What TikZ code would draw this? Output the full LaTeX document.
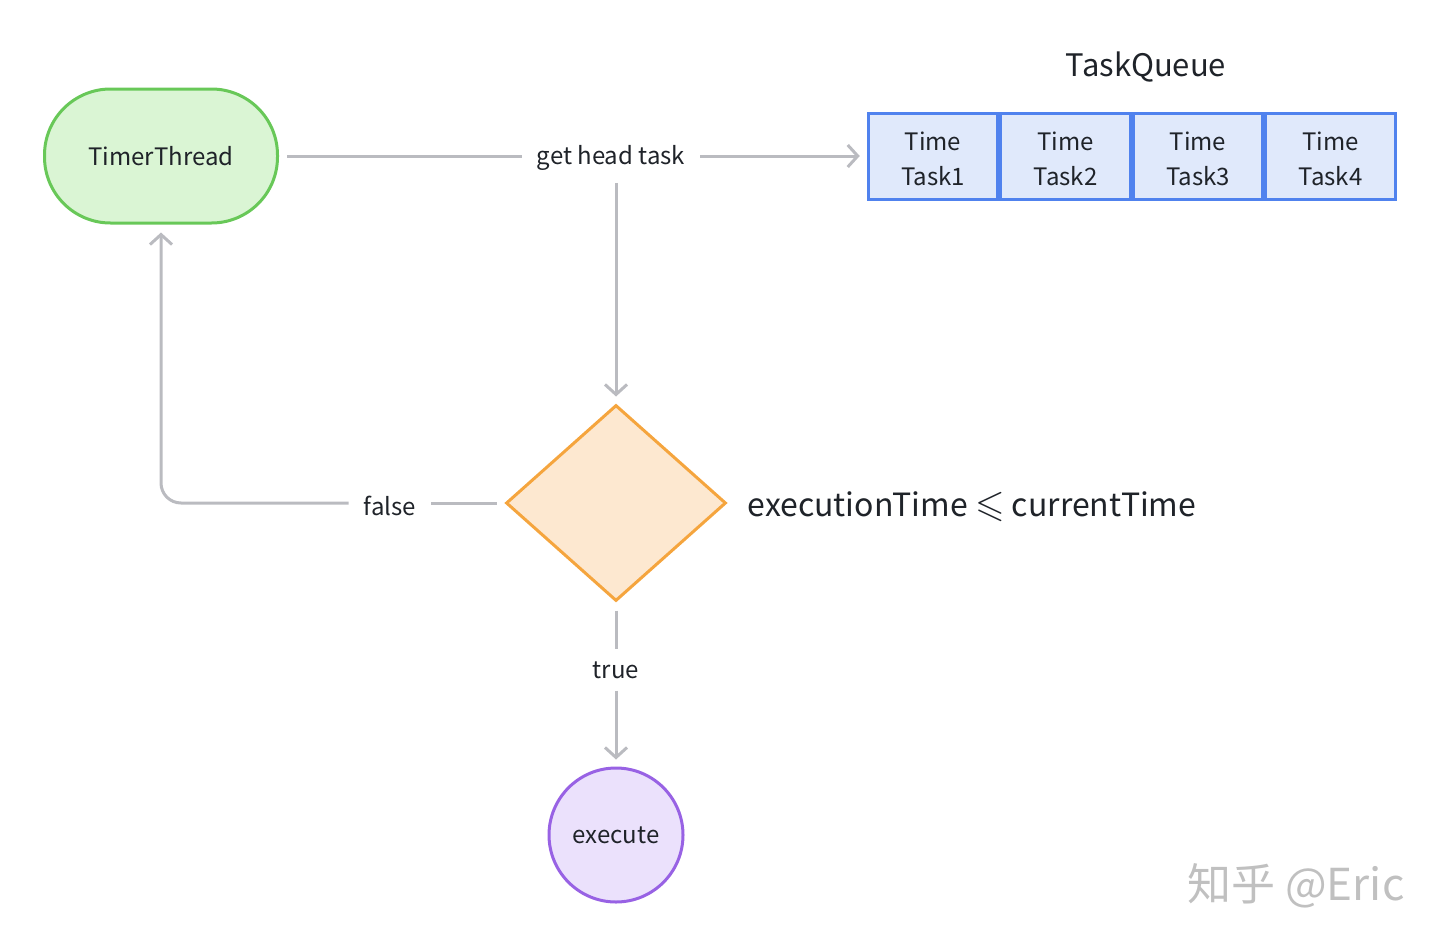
\documentclass[tikz,border=0pt]{standalone}
\usepackage{fontspec}
\usepackage{amssymb}
\setmainfont{Noto Sans CJK SC}
\usetikzlibrary{positioning,shapes.geometric,arrows.meta}
\definecolor{ink}{RGB}{31,35,41}
\definecolor{linegray}{RGB}{186,187,192}
\definecolor{tgreen}{RGB}{104,200,88}
\definecolor{tgfill}{RGB}{218,245,212}
\definecolor{qblue}{RGB}{80,130,238}
\definecolor{qfill}{RGB}{224,233,251}
\definecolor{dorange}{RGB}{245,165,62}
\definecolor{dfill}{RGB}{253,232,208}
\definecolor{epurple}{RGB}{152,98,228}
\definecolor{efill}{RGB}{235,225,252}
\definecolor{wmgray}{RGB}{192,192,192}

\begin{document}
\begin{tikzpicture}[x=1pt, y=-1pt,
  txt/.style={text=ink, font=\fontsize{24}{35}\selectfont},
  lbl/.style={txt, inner xsep=15pt, inner ysep=12pt},
  link/.style={draw=linegray, line width=3pt},
  arr/.style={link, -{Straight Barb[length=10pt, width=22pt]}},
  cell/.style={txt, draw=qblue, fill=qfill, line width=3pt, align=center,
    minimum width=129.5pt, minimum height=86pt, inner sep=0pt}]

\useasboundingbox (0,0) rectangle (1440,945);

% Thread
\node[txt, draw=tgreen, fill=tgfill, line width=3pt, rounded corners=66pt,
  minimum width=233pt, minimum height=134pt] (tt) at (161,156) {TimerThread};

% File de taches
\node[txt, font=\fontsize{31}{36}\selectfont] (tq) at (1146,67) {TaskQueue};
\node[cell] (c1) at (933,156) {\strut Time\\Task1};
\node[cell, right=0pt of c1] (c2) {\strut Time\\Task2};
\node[cell, right=0pt of c2] (c3) {\strut Time\\Task3};
\node[cell, right=0pt of c3] (c4) {\strut Time\\Task4};

% Decision
\node[diamond, draw=dorange, fill=dfill, line width=3pt, inner sep=0pt,
  minimum width=220pt, minimum height=196pt] (dec) at (616,503) {};
\node[txt, font=\fontsize{32}{36}\selectfont, anchor=west] (cond) at (744,507)
  {executionTime {\fontsize{38}{38}\selectfont$\leqslant$} currentTime};

% Execution
\node[txt, circle, draw=epurple, fill=efill, line width=3pt,
  minimum size=134pt] (ex) at (616,835) {execute};

% Labels
\node[lbl] (gh) at (611,158) {get head task};
\node[lbl] (fl) at (390,506) {false};
\node[lbl] (tr) at (616,670) {true};

% Connecteurs
\draw[link, shorten <=8pt] (tt.east) -- (gh.west |- tt.east);
\draw[arr, shorten >=7pt] (gh.east |- tt.east) -- (c1.west);
\draw[arr, shorten >=7pt] (gh.south -| dec.north) -- (dec.north);
\draw[link, shorten <=8pt] (dec.west) -- (fl.east |- dec.west);
\draw[arr, rounded corners=20pt, shorten >=8pt] (fl.west |- dec.west) -| (tt.south);
\draw[link, shorten <=8pt] (dec.south) -- (tr.north);
\draw[arr, shorten >=7pt] (tr.south) -- (ex.north);

% Filigrane
\node[text=wmgray, font=\fontsize{44}{48}\selectfont] (wm) at (1296,886) {知乎 @Eric};

\end{tikzpicture}
\end{document}
